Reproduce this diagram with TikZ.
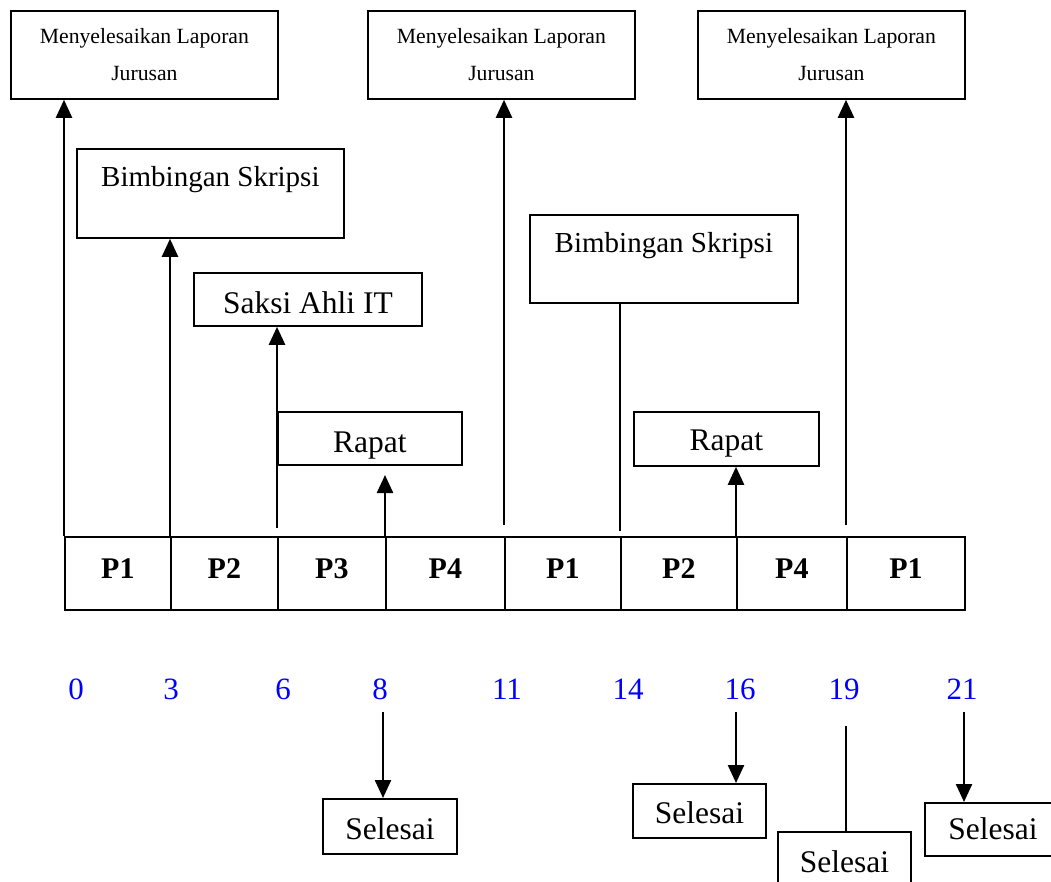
\documentclass[tikz,border=0pt]{standalone}
\usepackage{fontspec}
\setmainfont{Liberation Serif}
\usetikzlibrary{arrows.meta}
\definecolor{numblue}{RGB}{0,0,255}
\begin{document}
\begin{tikzpicture}[x=1pt,y=-1pt,
  box/.style={draw, line width=1.8pt, rectangle, inner sep=0pt, anchor=north west},
  txt/.style={font=\fontsize{#1pt}{#1pt}\selectfont},
  topbox/.style={box, minimum width=267pt, minimum height=88pt, align=center,
    font=\fontsize{21.7pt}{37pt}\selectfont},
  cell/.style={box, text height=42pt, text depth=31pt,
    font=\fontsize{30pt}{30pt}\selectfont\bfseries},
  num/.style={anchor=base, inner sep=0pt, text=numblue,
    font=\fontsize{31pt}{31pt}\selectfont},
  arr/.style={line width=2.4pt, -{Triangle[length=18pt,width=16pt]}},
  ln/.style={line width=2.4pt}]
\useasboundingbox (0,0) rectangle (1051,881);

% report boxes along the top
\node[topbox] (top1) at (10,10)  {Menyelesaikan Laporan\\Jurusan};
\node[topbox] (top2) at (367,10) {Menyelesaikan Laporan\\Jurusan};
\node[topbox] (top3) at (697,10) {Menyelesaikan Laporan\\Jurusan};

% activity boxes
\node[box, txt=29, minimum width=267pt, text height=38pt, text depth=51pt] (bim1) at (76,148) {Bimbingan Skripsi};
\node[box, txt=29, minimum width=268pt, text height=38pt, text depth=50pt] (bim2) at (529,214) {Bimbingan Skripsi};
\node[box, txt=31.5, minimum width=228pt, text height=41pt, text depth=12pt] (saksi) at (193,272) {Saksi Ahli IT};
\node[box, txt=31.5, minimum width=184pt, text height=41pt, text depth=12pt] (rap1) at (277,411) {Rapat};
\node[box, txt=31.5, minimum width=185pt, text height=39pt, text depth=15pt] (rap2) at (633,411) {Rapat};

% process timeline
\node[cell, minimum width=106pt] (c1) at (64,536)  {P1};
\node[cell, minimum width=107pt] (c2) at (170,536) {P2};
\node[cell, minimum width=108pt] (c3) at (277,536) {P3};
\node[cell, minimum width=119pt] (c4) at (385,536) {P4};
\node[cell, minimum width=116pt] (c5) at (504,536) {P1};
\node[cell, minimum width=116pt] (c6) at (620,536) {P2};
\node[cell, minimum width=110pt] (c7) at (736,536) {P4};
\node[cell, minimum width=118pt] (c8) at (846,536) {P1};

% time marks
\node[num] (n0)  at (76,699)  {0};
\node[num] (n3)  at (171,699) {3};
\node[num] (n6)  at (283,699) {6};
\node[num] (n8)  at (380,699) {8};
\node[num] (n11) at (507,699) {11};
\node[num] (n14) at (628,699) {14};
\node[num] (n16) at (740,699) {16};
\node[num] (n19) at (844,699) {19};
\node[num] (n21) at (962,699) {21};

% finish boxes
\node[box, txt=31.5, minimum width=134pt, text height=41pt, text depth=14pt] (sel1) at (322,798) {Selesai};
\node[box, txt=31.5, minimum width=133pt, text height=40pt, text depth=14pt] (sel2) at (632,783) {Selesai};
\node[box, txt=31.5, minimum width=133pt, text height=41pt, text depth=14pt] (sel3) at (777,831) {Selesai};
\node[box, txt=31.5, minimum width=136pt, text height=37pt, text depth=16pt] (sel4) at (924,802) {Selesai};

% upward connectors
\draw[arr] (c1.north west) -- (c1.north west |- top1.south);
\draw[arr] (c2.north west) -- (c2.north west |- bim1.south);
\coordinate (s6) at (277,528);
\draw[arr] (s6) -- (s6 |- saksi.south);
\coordinate (t8) at (385,475);
\draw[arr] (c4.north west) -- (t8);
\coordinate (s11) at (504,525);
\draw[arr] (s11) -- (s11 |- top2.south);
\coordinate (e14) at (620,531);
\draw[ln] (e14 |- bim2.south) -- (e14);
\draw[arr] (c7.north west) -- (c7.north west |- rap2.south);
\coordinate (s19) at (846,525);
\draw[arr] (s19) -- (s19 |- top3.south);

% downward connectors
\coordinate (d8) at (383,712);
\draw[arr] (d8) -- (d8 |- sel1.north);
\coordinate (d16) at (736,712);
\draw[arr] (d16) -- (d16 |- sel2.north);
\coordinate (d19) at (846,726);
\draw[ln] (d19) -- (d19 |- sel3.north);
\coordinate (d21) at (964,712);
\draw[arr] (d21) -- (d21 |- sel4.north);
\end{tikzpicture}
\end{document}
